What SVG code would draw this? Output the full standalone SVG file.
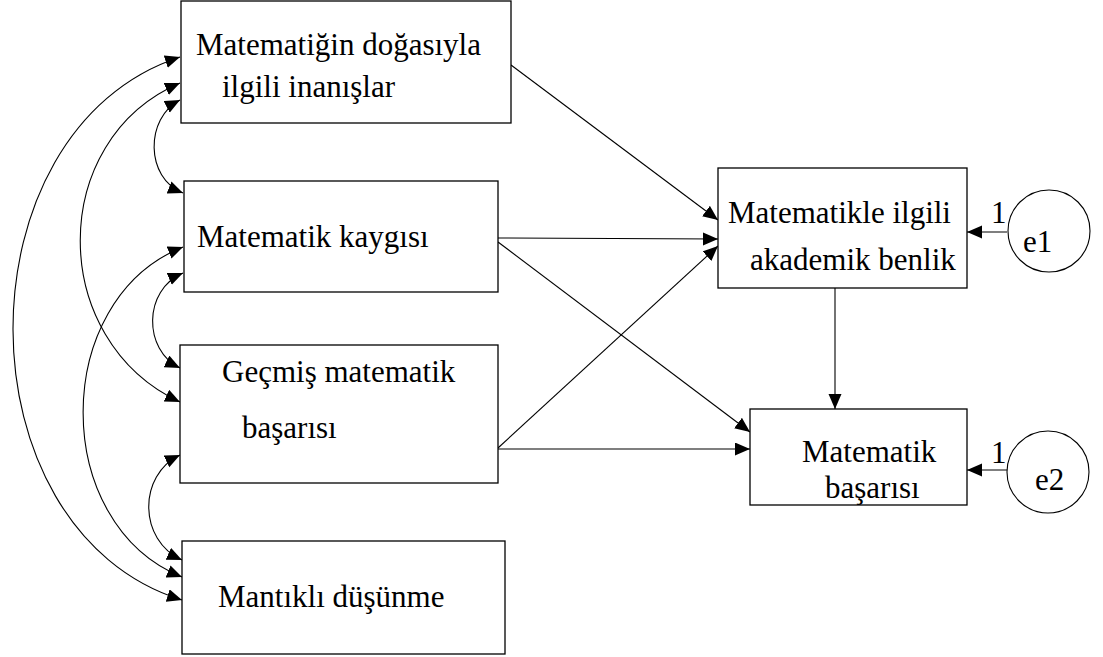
<svg xmlns="http://www.w3.org/2000/svg" width="1103" height="657" viewBox="0 0 1103 657">
<style>
.box{fill:#fff;stroke:#000;stroke-width:1.3}
.t{font-family:'Liberation Serif','DejaVu Serif',serif;font-size:31px;fill:#000}
.c{fill:none;stroke:#000;stroke-width:1.1}
.a{marker-end:url(#ah)}
.b{marker-start:url(#ah);marker-end:url(#ah)}
</style>
<defs>
<marker id="ah" markerUnits="userSpaceOnUse" markerWidth="18" markerHeight="14" refX="15" refY="6.5" orient="auto-start-reverse">
<path d="M0,0 L15,6.5 L0,13 z" fill="#000"/>
</marker>
</defs>
<rect width="1103" height="657" fill="#fff"/>
<g id="connectors">
<path class="c b" d="M180,100 C145,118 145,178 183,193"/>
<path class="c b" d="M183,273 C143,290 143,350 180,368"/>
<path class="c b" d="M180,455 C138,475 138,540 182,560"/>
<path class="c b" d="M180,83 C47,140 47,340 180,402"/>
<path class="c b" d="M183,247 C50,300 50,524 182,577"/>
<path class="c b" d="M180,57 C-43,130 -43,530 182,600"/>
<path class="c a" d="M511,65 L718,220"/>
<path class="c a" d="M498,238 L718,239"/>
<path class="c a" d="M498,242 L750,432"/>
<path class="c a" d="M498,448 L718,246"/>
<path class="c a" d="M498,449 L750,449"/>
<path class="c a" d="M835,288 L835,409"/>
<path class="c a" d="M1007,232 L967,232"/>
<path class="c a" d="M1007,470 L967,470"/>
</g>
<g id="n1"><rect class="box" x="181" y="1" width="330" height="122"/>
<text class="t" x="196" y="55">Matematiğin doğasıyla</text>
<text class="t" x="222" y="97">ilgili inanışlar</text></g>
<g id="n2"><rect class="box" x="184" y="181" width="314" height="111"/>
<text class="t" x="197" y="247">Matematik kaygısı</text></g>
<g id="n3"><rect class="box" x="180" y="345" width="318" height="138"/>
<text class="t" x="222" y="382">Geçmiş matematik</text>
<text class="t" x="242" y="438">başarısı</text></g>
<g id="n4"><rect class="box" x="182" y="541" width="323" height="113"/>
<text class="t" x="218" y="607">Mantıklı düşünme</text></g>
<g id="n5"><rect class="box" x="718" y="168" width="249" height="120"/>
<text class="t" x="728" y="223">Matematikle ilgili</text>
<text class="t" x="750" y="270">akademik benlik</text></g>
<g id="n6"><rect class="box" x="750" y="409" width="217" height="96"/>
<text class="t" x="802" y="462">Matematik</text>
<text class="t" x="825" y="498">başarısı</text></g>
<g id="e1"><circle cx="1049" cy="231" r="41" fill="#fff" stroke="#000" stroke-width="1.1"/>
<text class="t" x="1023" y="252">e1</text>
<text class="t" x="991" y="223">1</text></g>
<g id="e2"><circle cx="1048" cy="472" r="41" fill="#fff" stroke="#000" stroke-width="1.1"/>
<text class="t" x="1035" y="490">e2</text>
<text class="t" x="991" y="463">1</text></g>
</svg>
